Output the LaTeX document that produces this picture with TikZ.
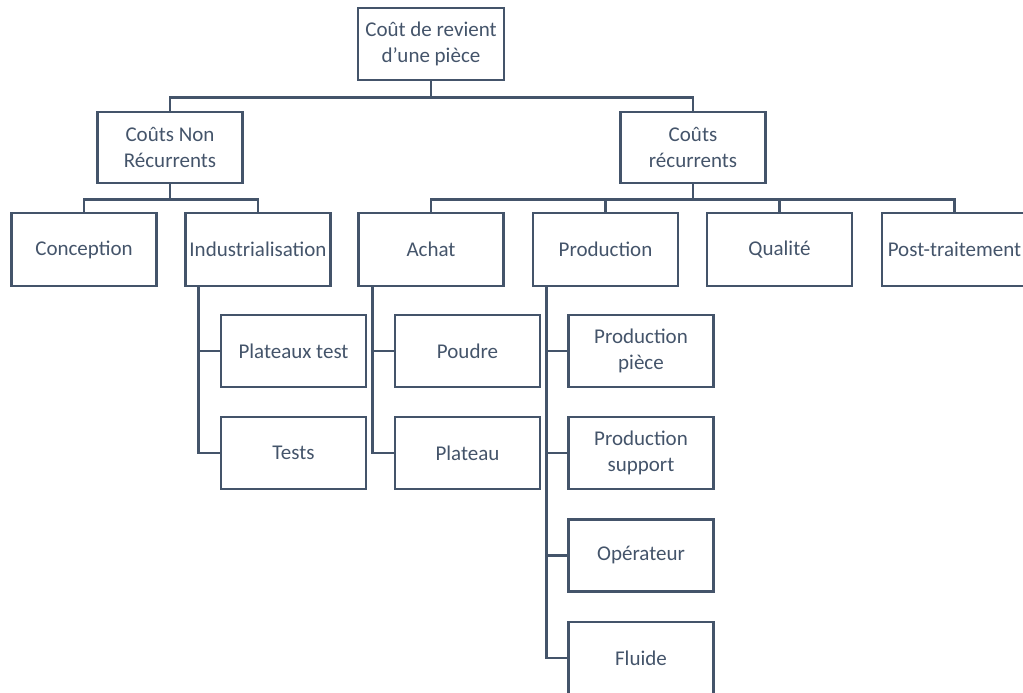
\documentclass[tikz,border=0pt]{standalone}
\usepackage{fontspec}
\setmainfont{Carlito}
\usetikzlibrary{positioning}

\definecolor{slate}{HTML}{44546A}

\begin{document}
\begin{tikzpicture}[
    x=1pt, y=1pt,
    font=\fontsize{21}{25.5}\selectfont,
    box/.style={
        draw=slate,
        text=slate,
        line width=2.8pt,
        align=center,
        minimum width=145pt,
        minimum height=72pt,
        inner sep=2pt
    },
    link/.style={
        draw=slate,
        line width=2.8pt
    }
]
\useasboundingbox (0,0) rectangle (1023,-693);

% Root
\node[box, minimum width=146pt] (root) at (431,-44) {Coût de revient\\d’une pièce};

% Second level
\node[box, minimum height=71pt] (nonrec) at (170,-147.5) {Coûts Non\\Récurrents};
\node[box, minimum height=71pt] (rec) at (693,-147.5) {Coûts\\récurrents};

% Third level
\node[box, minimum height=73pt] (concep) at (84,-249.5) {Conception};
\node[box, minimum height=73pt] (indus) at (258,-249.5) {Industrialisation};
\node[box, minimum height=73pt] (achat) at (431,-249.5) {Achat};
\node[box, minimum height=73pt] (prod) at (605.5,-249.5) {Production};
\node[box, minimum height=73pt] (qual) at (779.5,-249.5) {Qualité};
\node[box, minimum height=73pt] (post) at (954.5,-249.5) {Post-traitement};

% Under Industrialisation
\node[box] (platest) at (293.5,-351) {Plateaux test};
\node[box] (tests) at (293.5,-453) {Tests};

% Under Achat
\node[box] (poudre) at (467.5,-351) {Poudre};
\node[box] (plateau) at (467.5,-453) {Plateau};

% Under Production
\node[box] (prodpiece) at (641,-351) {Production\\pièce};
\node[box] (prodsupp) at (641,-453) {Production\\support};
\node[box] (operat) at (641,-555.5) {Opérateur};
\node[box] (fluide) at (641,-658) {Fluide};

% Root to second level
\draw[link] (root.south) -- ++(0,-16) -| (nonrec.north);
\draw[link] (root.south) -- ++(0,-16) -| (rec.north);

% Second to third level
\draw[link] (nonrec.south) -- ++(0,-15) -| (concep.north);
\draw[link] (nonrec.south) -- ++(0,-15) -| (indus.north);
\foreach \child in {achat, prod, qual, post}
    \draw[link] (rec.south) -- ++(0,-15) -| (\child.north);

% Side branches
\foreach \child in {platest, tests}
    \draw[link] ([xshift=14pt]indus.south west) |- (\child.west);
\foreach \child in {poudre, plateau}
    \draw[link] ([xshift=15pt]achat.south west) |- (\child.west);
\foreach \child in {prodpiece, prodsupp, operat, fluide}
    \draw[link] ([xshift=15pt]prod.south west) |- (\child.west);

\end{tikzpicture}
\end{document}
